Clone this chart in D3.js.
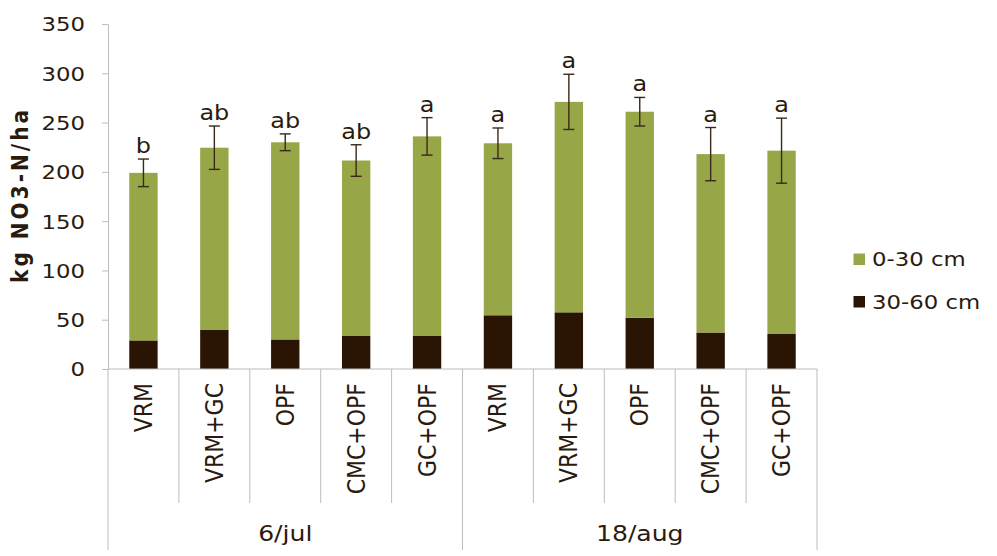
<!DOCTYPE html>
<html>
<head>
<meta charset="utf-8">
<script src="https://cdn.jsdelivr.net/npm/d3@7"></script>
<style>
  html, body { margin: 0; padding: 0; background: #fff; }
  svg { display: block; }
  text { font-family: "DejaVu Sans", Verdana, sans-serif; fill: #2b1a0e; }
</style>
</head>
<body>
<svg id="chart" width="997" height="556"></svg>
<script>
// ---- data ----
const categories = ["VRM", "VRM+GC", "OPF", "CMC+OPF", "GC+OPF", "VRM", "VRM+GC", "OPF", "CMC+OPF", "GC+OPF"];
const groups = ["6/jul", "18/aug"];
const seriesNames = ["0-30 cm", "30-60 cm"];
const deep = [29, 40, 30, 33.5, 33.5, 54.5, 57.5, 52, 37, 35.5];          // 30-60 cm
const shallow = [170, 184.5, 200, 178, 202.5, 174.5, 213.5, 209, 181, 186]; // 0-30 cm
const errors = [14, 22, 8.5, 16, 19, 15.5, 28, 14.5, 27, 33];
const letters = ["b", "ab", "ab", "ab", "a", "a", "a", "a", "a", "a"];
const yTicks = [0, 50, 100, 150, 200, 250, 300, 350];

// ---- layout ----
const SX = 1.14; // horizontal text stretch of the original
const colors = { shallow: "#97a747", deep: "#2a1504", axis: "#bdbdbd", err: "#3a2818" };
const pLeft = 108, pRight = 817, pTop = 24, pBottom = 369;

const svg = d3.select("#chart");
const idx = d3.range(categories.length);
const x = d3.scaleBand().domain(idx).range([pLeft, pRight]).paddingInner(0).paddingOuter(0);
const y = d3.scaleLinear().domain([0, 350]).range([pBottom, pTop]);
const barW = x.bandwidth() * 0.4;

// y axis
const yAxis = svg.append("g").attr("transform", `translate(${pLeft},0)`)
  .call(d3.axisLeft(y).tickValues(yTicks).tickSize(6).tickSizeOuter(0).tickPadding(23));
yAxis.select(".domain").attr("stroke", colors.axis);
yAxis.selectAll(".tick line").attr("stroke", colors.axis);
yAxis.selectAll(".tick text")
  .attr("x", null).attr("dy", null)
  .attr("font-size", 20)
  .attr("dominant-baseline", "central")
  .attr("text-anchor", "end")
  .attr("transform", `translate(-23,0) scale(${SX},1)`)
  .style("font-family", "'DejaVu Sans', Verdana, sans-serif")
  .style("fill", "#2b1a0e");

// bars
const cx = i => x(i) + x.bandwidth() / 2;
svg.append("g").selectAll("rect").data(idx).join("rect")
  .attr("x", i => cx(i) - barW / 2).attr("width", barW)
  .attr("y", i => y(deep[i])).attr("height", i => y(0) - y(deep[i]))
  .attr("fill", colors.deep);
svg.append("g").selectAll("rect").data(idx).join("rect")
  .attr("x", i => cx(i) - barW / 2).attr("width", barW)
  .attr("y", i => y(deep[i] + shallow[i])).attr("height", i => y(deep[i]) - y(deep[i] + shallow[i]))
  .attr("fill", colors.shallow);

// error bars
const eg = svg.append("g").attr("stroke", colors.err).attr("stroke-width", 1.4);
idx.forEach(i => {
  const t = deep[i] + shallow[i];
  const y1 = y(t + errors[i]), y2 = y(t - errors[i]);
  eg.append("line").attr("x1", cx(i)).attr("x2", cx(i)).attr("y1", y1).attr("y2", y2);
  eg.append("line").attr("x1", cx(i) - 5.5).attr("x2", cx(i) + 5.5).attr("y1", y1).attr("y2", y1);
  eg.append("line").attr("x1", cx(i) - 5.5).attr("x2", cx(i) + 5.5).attr("y1", y2).attr("y2", y2);
});

// significance letters
svg.append("g").selectAll("text").data(idx).join("text")
  .attr("transform", i => `translate(${cx(i)},${y(deep[i] + shallow[i] + errors[i]) - 6}) scale(${SX},1)`)
  .attr("text-anchor", "middle").attr("font-size", 21)
  .text(i => letters[i]);

// x axis line and separators
const xa = svg.append("g").attr("stroke", colors.axis).attr("stroke-width", 1);
xa.append("line").attr("x1", pLeft).attr("x2", pRight).attr("y1", pBottom).attr("y2", pBottom);
d3.range(categories.length + 1).forEach(k => {
  const xx = k < categories.length ? x(k) : pRight;
  xa.append("line").attr("x1", xx).attr("x2", xx).attr("y1", pBottom)
    .attr("y2", k % 5 === 0 ? 550 : 503);
});

// category labels (rotated)
svg.append("g").selectAll("text").data(idx).join("text")
  .attr("transform", i => `translate(${cx(i)},383) scale(${SX},1) rotate(-90)`)
  .attr("text-anchor", "end").attr("dominant-baseline", "central")
  .attr("font-size", 22)
  .text(i => categories[i]);

// group labels
groups.forEach((g, gi) => {
  const gx = (x(gi * 5) + (gi === groups.length - 1 ? pRight : x(gi * 5 + 5))) / 2;
  svg.append("text")
    .attr("transform", `translate(${gx},534) scale(${SX},1)`)
    .attr("text-anchor", "middle").attr("dominant-baseline", "central")
    .attr("font-size", 22).text(g);
});

// y axis title
svg.append("text")
  .attr("transform", `translate(20,${(pTop + pBottom) / 2}) scale(${SX},1) rotate(-90)`)
  .attr("text-anchor", "middle").attr("dominant-baseline", "central")
  .attr("font-size", 20).attr("font-weight", "bold")
  .attr("textLength", 173).attr("lengthAdjust", "spacing")
  .text("kg NO3-N/ha");

// legend
const legend = [
  { name: seriesNames[0], color: colors.shallow, yc: 259.5 },
  { name: seriesNames[1], color: colors.deep, yc: 302 }
];
legend.forEach(l => {
  svg.append("rect").attr("x", 853.5).attr("y", l.yc - 6).attr("width", 11.5).attr("height", 11.5).attr("fill", l.color);
  svg.append("text").attr("transform", `translate(872,${l.yc}) scale(${SX},1)`)
    .attr("dominant-baseline", "central").attr("font-size", 20).text(l.name);
});
</script>
</body>
</html>
